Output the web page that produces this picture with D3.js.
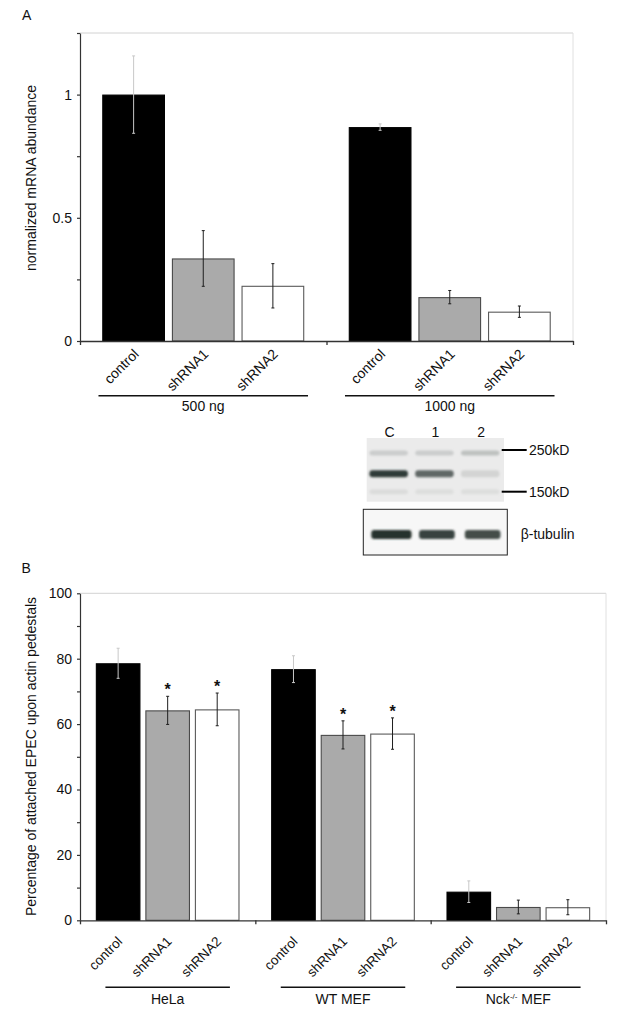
<!DOCTYPE html>
<html><head><meta charset="utf-8">
<script src="https://cdn.jsdelivr.net/npm/d3@7"></script>
<style>
body{margin:0;background:#fff}
svg{display:block;font-family:"Liberation Sans",Arial,sans-serif}
</style>
</head><body>
<svg id="c" width="622" height="1022"></svg>
<script>
// ---------------- data ----------------
const conditions = ["control", "shRNA1", "shRNA2"];

const groupsA = ["500 ng", "1000 ng"];
const meansA = [[1.0, 0.335, 0.224], [0.868, 0.178, 0.119]];
const errA = [[0.157, 0.113, 0.09], [0.013, 0.027, 0.023]];
const ticksA = [0, 0.5, 1];
const minorTicksA = [0.25, 0.75, 1.25];

const groupsB = ["HeLa", "WT MEF", "Nck-/- MEF"];
const meansB = [[78.6, 64.2, 64.5], [76.8, 56.7, 57.1], [8.75, 4.07, 4.0]];
const errB = [[4.6, 4.3, 5.0], [4.1, 4.3, 4.8], [3.3, 2.1, 2.3]];
const sigB = [[false, true, true], [false, true, true], [false, false, false]];
const ticksB = [0, 20, 40, 60, 80, 100];
const minorTicksB = [10, 30, 50, 70, 90];

const blotLanes = ["C", "1", "2"];
const markerKD = [250, 150];
const bandKD = [241, 187, 150];
const bandLevels = [[0.16, 0.16, 0.22], [0.92, 0.68, 0.12], [0.08, 0.07, 0.07]];
const tubulinLevels = [0.97, 0.88, 0.82];

const fills = ["#000000", "#aaaaaa", "#ffffff"];
const strokes = ["#000000", "#4a4a4a", "#5a5a5a"];
const errColors = ["#c8c8c8", "#1e1e1e", "#1e1e1e"];

// ---------------- drawing ----------------
const svg = d3.select("#c");
const defs = svg.append("defs");
defs.append("filter").attr("id", "blur").attr("x", "-30%").attr("y", "-100%").attr("width", "160%").attr("height", "300%")
  .append("feGaussianBlur").attr("stdDeviation", 1.3);

function panel(cfg) {
  const g = svg.append("g");
  const x0 = d3.scaleBand().domain(cfg.groups).range(cfg.xRange);
  const x1 = d3.scaleBand().domain(conditions).range([0, x0.bandwidth()]).paddingInner(0.1).paddingOuter(0.32);
  const y = d3.scaleLinear().domain(cfg.yDomain).range(cfg.yRange);
  const top = y(cfg.yDomain[1]);

  // light frame
  g.append("line").attr("x1", cfg.xRange[0]).attr("x2", cfg.xRange[1]).attr("y1", top).attr("y2", top)
    .attr("stroke", "#d2d2d2").attr("stroke-width", 1);
  g.append("line").attr("x1", cfg.xRange[1]).attr("x2", cfg.xRange[1]).attr("y1", top).attr("y2", y(0))
    .attr("stroke", "#e0e0e0").attr("stroke-width", 1);

  const flat = [];
  cfg.groups.forEach((gr, gi) => conditions.forEach((c, ci) => flat.push({
    gr, c, ci, v: cfg.means[gi][ci], e: cfg.errs[gi][ci], s: cfg.sig ? cfg.sig[gi][ci] : false
  })));
  const cx = d => x0(d.gr) + x1(d.c) + x1.bandwidth() / 2;

  g.selectAll("rect.bar").data(flat).join("rect").attr("class", "bar")
    .attr("x", d => x0(d.gr) + x1(d.c) + 0.5)
    .attr("width", x1.bandwidth() - 1)
    .attr("y", d => y(d.v) + 0.5)
    .attr("height", d => y(0) - y(d.v) - 0.5)
    .attr("fill", d => fills[d.ci])
    .attr("stroke", d => strokes[d.ci]).attr("stroke-width", 1.1);

  // error bars
  const eb = g.selectAll("g.err").data(flat).join("g").attr("class", "err")
    .attr("stroke", d => errColors[d.ci]).attr("stroke-width", 1);
  eb.append("line").attr("x1", cx).attr("x2", cx).attr("y1", d => y(d.v + d.e)).attr("y2", d => y(d.v - d.e));
  eb.append("line").attr("x1", d => cx(d) - 1.5).attr("x2", d => cx(d) + 1.5).attr("y1", d => y(d.v + d.e)).attr("y2", d => y(d.v + d.e));
  eb.append("line").attr("x1", d => cx(d) - 1.5).attr("x2", d => cx(d) + 1.5).attr("y1", d => y(d.v - d.e)).attr("y2", d => y(d.v - d.e));

  // significance stars
  g.selectAll("text.star").data(flat.filter(d => d.s)).join("text").attr("class", "star")
    .attr("x", cx).attr("y", d => y(d.v + d.e) - 1)
    .attr("text-anchor", "middle").attr("font-size", 16).attr("font-weight", "bold").attr("fill", "#111")
    .text("*");

  // y axis
  const ya = g.append("g").attr("transform", `translate(${cfg.xRange[0]},0)`)
    .call(d3.axisLeft(y).tickValues(cfg.ticks).tickSize(3).tickPadding(5).tickSizeOuter(0).tickFormat(cfg.fmt));
  ya.selectAll("text").attr("font-size", 14).attr("fill", "#111").attr("font-family", '"Liberation Sans",Arial,sans-serif');
  const ym = g.append("g").attr("transform", `translate(${cfg.xRange[0]},0)`)
    .call(d3.axisLeft(y).tickValues(cfg.minor).tickSize(3).tickFormat(""));
  ym.select(".domain").remove();
  [ya, ym].forEach(a => { a.selectAll("path,line").attr("stroke", "#333").attr("stroke-width", 1.2); });

  // x axis with ticks at group boundaries
  const xb = d3.scaleLinear().domain([0, cfg.groups.length]).range(cfg.xRange);
  const xa = g.append("g").attr("transform", `translate(0,${y(0)})`)
    .call(d3.axisBottom(xb).tickValues(d3.range(cfg.groups.length + 1)).tickSize(4).tickSizeOuter(0).tickFormat(""));
  xa.selectAll("path,line").attr("stroke", "#333").attr("stroke-width", 1.3);

  // rotated category labels
  g.selectAll("text.cat").data(flat).join("text").attr("class", "cat")
    .attr("x", d => cx(d) + cfg.labelDx).attr("y", y(0) + cfg.labelDy)
    .attr("transform", d => `rotate(-45,${cx(d) + cfg.labelDx},${y(0) + cfg.labelDy})`)
    .attr("text-anchor", "end").attr("font-size", cfg.labelSize).attr("fill", "#111")
    .text(d => d.c);

  // group lines + labels
  cfg.groups.forEach(gr => {
    const c = x0(gr) + x0.bandwidth() / 2;
    const hw = x0.bandwidth() * cfg.lineFrac / 2;
    g.append("line").attr("x1", c - hw).attr("x2", c + hw).attr("y1", cfg.lineY).attr("y2", cfg.lineY)
      .attr("stroke", "#111").attr("stroke-width", 1.6);
    const t = g.append("text").attr("x", c).attr("y", cfg.groupTextY).attr("text-anchor", "middle")
      .attr("font-size", 14).attr("fill", "#111");
    const m = gr.match(/^(\S+?)(-\/-)(.*)$/);
    if (m) {
      t.append("tspan").text(m[1]);
      t.append("tspan").attr("dy", -5).attr("font-size", 8).text(m[2]);
      t.append("tspan").attr("dy", 5).text(m[3]);
    } else t.text(gr);
  });

  // y label
  g.append("text").attr("transform", `translate(${cfg.yLabelX},${cfg.yLabelY}) rotate(-90)`)
    .attr("text-anchor", "middle").attr("font-size", 14).attr("fill", "#111").text(cfg.yLabel);
  // panel letter
  g.append("text").attr("x", cfg.letterX).attr("y", cfg.letterY).attr("font-size", 14).attr("fill", "#111").text(cfg.letter);
}

panel({
  groups: groupsA, means: meansA, errs: errA, sig: null,
  yDomain: [0, 1.25], yRange: [341, 33], xRange: [80, 573],
  ticks: ticksA, minor: minorTicksA, fmt: d3.format("~g"),
  labelDx: 6, labelDy: 14, labelSize: 14, lineFrac: 0.85, lineY: 395.7, groupTextY: 410.5,
  yLabel: "normalized mRNA abundance", yLabelX: 36, yLabelY: 178,
  letter: "A", letterX: 22, letterY: 20
});

panel({
  groups: groupsB, means: meansB, errs: errB, sig: sigB,
  yDomain: [0, 100], yRange: [920.3, 593.3], xRange: [80, 606],
  ticks: ticksB, minor: minorTicksB, fmt: d3.format("d"),
  labelDx: 5, labelDy: 22, labelSize: 13.5, lineFrac: 0.71, lineY: 987.3, groupTextY: 1004,
  yLabel: "Percentage of attached EPEC upon actin pedestals", yLabelX: 36, yLabelY: 756.5,
  letter: "B", letterX: 21.5, letterY: 573
});

// ---------------- western blot inset ----------------
const blot = svg.append("g");
const laneX = d3.scaleBand().domain(blotLanes).range([366.7, 504]);
const kdY = d3.scaleLog().domain([150, 250]).range([491.7, 450]);
const bg = "#ebebeb";
const ink = d3.interpolateRgb(bg, "#1f2b27");

blot.append("rect").attr("x", 366.7).attr("y", 438).attr("width", 137.3).attr("height", 63.7).attr("fill", bg);
bandKD.forEach((kd, bi) => {
  blot.selectAll(null).data(blotLanes).join("rect")
    .attr("x", l => laneX(l) + laneX.bandwidth() * 0.06)
    .attr("width", laneX.bandwidth() * 0.84)
    .attr("y", kdY(kd) - (bi === 1 ? 3.5 : 2.5))
    .attr("height", bi === 1 ? 7 : 5)
    .attr("rx", 3)
    .attr("fill", (l, li) => ink(bandLevels[bi][li]))
    .attr("filter", "url(#blur)");
});
blot.selectAll("text.lane").data(blotLanes).join("text").attr("class", "lane")
  .attr("x", l => laneX(l) + laneX.bandwidth() / 2).attr("y", 437)
  .attr("text-anchor", "middle").attr("font-size", 14).attr("fill", "#111").text(l => l);
markerKD.forEach(kd => {
  blot.append("line").attr("x1", 501.7).attr("x2", 526.7).attr("y1", kdY(kd)).attr("y2", kdY(kd))
    .attr("stroke", "#000").attr("stroke-width", 2);
  blot.append("text").attr("x", 529).attr("y", kdY(kd) + 5).attr("font-size", 14).attr("fill", "#111").text(kd + "kD");
});

blot.append("rect").attr("x", 363.3).attr("y", 509.3).attr("width", 144).attr("height", 45.7)
  .attr("fill", "#f7f7f7").attr("stroke", "#222").attr("stroke-width", 1);
blot.selectAll("rect.tub").data(blotLanes).join("rect").attr("class", "tub")
  .attr("x", (l, i) => laneX(l) + laneX.bandwidth() * 0.1 + (i === 0 ? 0 : 2))
  .attr("width", (l, i) => laneX.bandwidth() * (i === 0 ? 0.88 : 0.78))
  .attr("y", 530).attr("height", 9).attr("rx", 3)
  .attr("fill", (l, i) => ink(tubulinLevels[i]))
  .attr("filter", "url(#blur)");
blot.append("text").attr("x", 520.7).attr("y", 539).attr("font-size", 14).attr("fill", "#111").text("β-tubulin");
</script>
</body></html>
